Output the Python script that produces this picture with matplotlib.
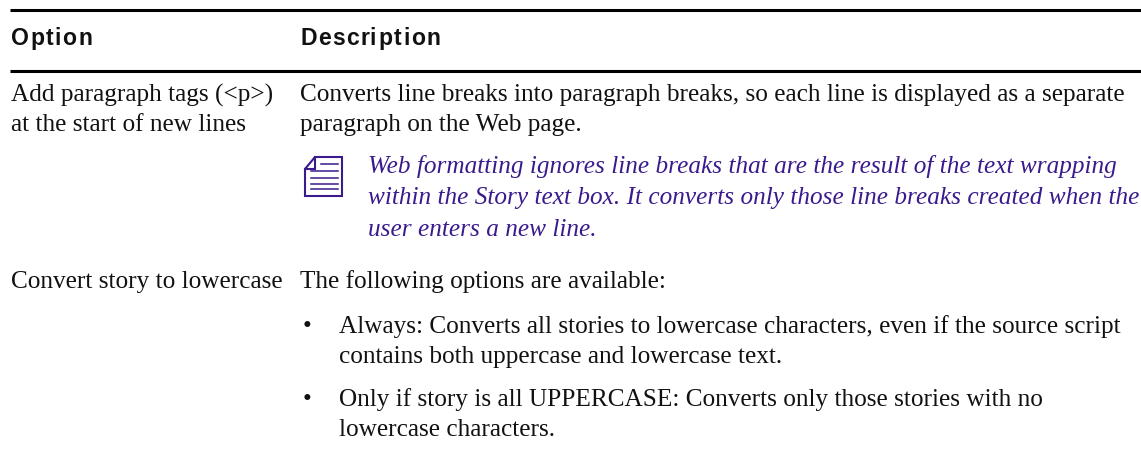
import matplotlib
matplotlib.use("Agg")
import matplotlib.pyplot as plt

W, H = 1141, 456

header_labels = ["Option", "Description"]
option_rows = [
    ("Add paragraph tags (<p>)", 95),
    ("at the start of new lines", 125),
    ("Convert story to lowercase", 282),
]
desc_rows = [
    ("Converts line breaks into paragraph breaks, so each line is displayed as a separate", 300, 95),
    ("paragraph on the Web page.", 300, 125),
    ("The following options are available:", 300, 282),
    ("Always: Converts all stories to lowercase characters, even if the source script", 339, 327),
    ("contains both uppercase and lowercase text.", 339, 357),
    ("Only if story is all UPPERCASE: Converts only those stories with no", 339, 400),
    ("lowercase characters.", 339, 430),
]
note_rows = [
    ("Web formatting ignores line breaks that are the result of the text wrapping", 167),
    ("within the Story text box. It converts only those line breaks created when the", 198),
    ("user enters a new line.", 230),
]
bullet_rows = [327, 400]

fig = plt.figure(figsize=(W / 100, H / 100), dpi=100)
ax = fig.add_axes([0, 0, 1, 1])
ax.set_xlim(0, W)
ax.set_ylim(H, 0)
ax.axis("off")

serif = "Liberation Serif"
sans = "Liberation Sans"
purple = "#3a1a8c"
fs = 18.2


def spaced_text(x, y, s, gap):
    # matplotlib has no letter spacing, so step through the characters
    r = fig.canvas.get_renderer()
    for i, ch in enumerate(s):
        ax.text(x, y, ch, family=sans, weight="bold", fontsize=16.6, va="baseline", color="#111111")
        # use prefix widths so kerning-free advance is kept
        t = ax.text(0, 0, s[:i + 1] + ".", family=sans, weight="bold", fontsize=16.6)
        p = ax.text(0, 0, ".", family=sans, weight="bold", fontsize=16.6)
        adv = t.get_window_extent(r).width - p.get_window_extent(r).width
        t.remove()
        p.remove()
        x = start_x[s] + adv + gap * (i + 1)


# header rules
ax.plot([10, W], [10.5, 10.5], color="black", lw=2.2, solid_capstyle="butt")
ax.plot([10, W], [71.5, 71.5], color="black", lw=2.2, solid_capstyle="butt")

start_x = {header_labels[0]: 11, header_labels[1]: 300}
for lab in header_labels:
    spaced_text(start_x[lab], 45, lab, 1.4)

for txt, y in option_rows:
    ax.text(11, y, txt, family=serif, fontsize=fs, va="center", color="#111111")
for txt, x, y in desc_rows:
    ax.text(x, y, txt, family=serif, fontsize=fs, va="center", color="#111111")
for y in bullet_rows:
    ax.text(303, y, "\u2022", family=serif, fontsize=fs, va="center", color="#111111")
for txt, y in note_rows:
    ax.text(368, y, txt, family=serif, style="italic", fontsize=fs, va="center", color=purple)

# note icon: page with folded corner and text lines
ax.plot([315, 342, 342, 305, 305, 315, 315, 305], [158, 158, 197, 197, 170, 158, 170, 170],
        color=purple, lw=1.5, solid_joinstyle="miter")
for y in [165, 172, 179, 185, 190]:
    ax.plot([321 if y < 170 else 311, 338], [y, y], color=purple, lw=1.1)

fig.savefig("out.png", dpi=100)
